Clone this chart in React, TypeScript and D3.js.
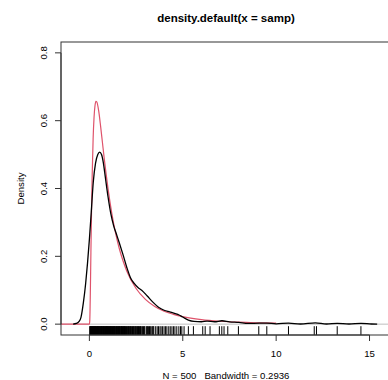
import React from "react";
import * as d3 from "d3";

// Kernel density estimate (black)
const kdeX = [-0.87, -0.7, -0.55, -0.45, -0.32, -0.2, -0.1, 0.0, 0.1, 0.21, 0.33, 0.45, 0.55, 0.65, 0.75, 0.85, 1.0, 1.15, 1.3, 1.45, 1.6, 1.8, 2.0, 2.2, 2.4, 2.6, 2.8, 3.1, 3.4, 3.7, 4.0, 4.3, 4.6, 4.8, 5.0, 5.3, 5.6, 6.0, 6.3, 6.7, 7.1, 7.5, 8.0, 8.5, 9.1, 9.5, 10.0, 10.66, 11.3, 12.1, 12.7, 13.27, 13.9, 14.54, 15.1, 15.41];
const kdeY = [0.0, 0.002, 0.008, 0.02, 0.064, 0.12, 0.18, 0.25, 0.33, 0.42, 0.475, 0.5, 0.507, 0.5, 0.475, 0.435, 0.375, 0.325, 0.29, 0.265, 0.24, 0.205, 0.168, 0.137, 0.12, 0.108, 0.1, 0.083, 0.065, 0.05, 0.041, 0.036, 0.031, 0.027, 0.021, 0.012, 0.008, 0.007, 0.009, 0.007, 0.01, 0.007, 0.005, 0.002, 0.003, 0.003, 0.001, 0.003, 0.0005, 0.004, 0.0005, 0.0025, 0.0005, 0.0025, 0.0005, 0.0];

// Reference density (red)
const refX = [-1.52, 0.0, 0.02, 0.05, 0.07, 0.1, 0.12, 0.15, 0.2, 0.25, 0.3, 0.35, 0.4, 0.5, 0.6, 0.7, 0.8, 0.9, 1.0, 1.2, 1.4, 1.6, 1.8, 2.0, 2.5, 3.0, 3.5, 4.0, 4.5, 5.0, 6.0, 7.0, 8.0, 9.0, 10.0];
const refY = [0.0, 0.0, 0.0095, 0.09, 0.166, 0.282, 0.351, 0.44, 0.546, 0.61, 0.644, 0.657, 0.655, 0.628, 0.584, 0.535, 0.486, 0.441, 0.399, 0.327, 0.269, 0.223, 0.187, 0.157, 0.105, 0.073, 0.052, 0.038, 0.029, 0.022, 0.0134, 0.0086, 0.0057, 0.004, 0.0028];

// Sample values shown as rug
const rugValues = [
  0.02, 0.04, 0.06, 0.08, 0.1, 0.11, 0.13, 0.15, 0.17, 0.19, 0.2, 0.22, 0.24, 0.26, 0.28, 0.29, 0.31, 0.33,
  0.35, 0.36, 0.38, 0.41, 0.43, 0.44, 0.46, 0.48, 0.5, 0.51, 0.53, 0.55, 0.57, 0.59, 0.61, 0.63, 0.65, 0.66,
  0.69, 0.71, 0.73, 0.74, 0.76, 0.78, 0.8, 0.82, 0.84, 0.86, 0.88, 0.9, 0.92, 0.93, 0.95, 0.97, 0.99, 1.01,
  1.03, 1.05, 1.07, 1.09, 1.11, 1.13, 1.15, 1.17, 1.19, 1.21, 1.24, 1.26, 1.28, 1.3, 1.32, 1.34, 1.36, 1.38,
  1.41, 1.43, 1.45, 1.47, 1.5, 1.52, 1.54, 1.56, 1.59, 1.61, 1.63, 1.65, 1.68, 1.7, 1.72, 1.74, 1.77, 1.79,
  1.82, 1.84, 1.86, 1.88, 1.91, 1.93, 1.96, 1.99, 2.02, 2.05, 2.08, 2.1, 2.13, 2.16, 2.19, 2.21, 2.24, 2.27,
  2.31, 2.34, 2.37, 2.39, 2.43, 2.46, 2.49, 2.51, 2.55, 2.58, 2.61, 2.63, 2.68, 2.71, 2.74, 2.76, 2.81, 2.85,
  2.9, 2.94, 2.97, 3.05, 3.09, 3.12, 3.17, 3.22, 3.26, 3.31, 3.39, 3.41, 3.45, 3.55, 3.63, 3.7, 3.78, 3.84,
  3.92, 4.0, 4.08, 4.15, 4.25, 4.33, 4.42, 4.5, 4.58, 4.68, 4.79, 4.88, 4.95, 5.07, 5.3, 5.57, 6.07, 6.2,
  6.46, 6.96, 7.09, 7.21, 7.41, 7.98, 9.07, 9.5, 10.66, 12.04, 12.16, 13.27, 14.54,
];

const xTicks = [0, 5, 10, 15];
const yTicks = [0, 0.2, 0.4, 0.6, 0.8];
const yTickLabels = ["0.0", "0.2", "0.4", "0.6", "0.8"];

const titleText = "density.default(x = samp)";
const xLabelText = "N = 500   Bandwidth = 0.2936";
const yLabelText = "Density";

export default function App() {
  const W = 388;
  const H = 380;
  const left = 61, right = 391, top = 42, bottom = 335;
  const x = d3.scaleLinear().domain([-1.52, 16.15]).range([left, right]);
  const y = d3.scaleLinear().domain([-0.032, 0.832]).range([bottom, top]);

  const kde = kdeX.map((v, i) => [v, kdeY[i]] as [number, number]);
  const ref = refX.map((v, i) => [v, refY[i]] as [number, number]);
  const line = d3
    .line<[number, number]>()
    .x((d) => x(d[0]))
    .y((d) => y(d[1]))
    .curve(d3.curveMonotoneX);

  const font = "'Liberation Sans', Arial, Helvetica, sans-serif";
  const fs = 9.6;

  return (
    <svg
      width={W}
      height={H}
      style={{ position: "absolute", left: 0, top: 0, background: "#fff" }}
      fontFamily={font}
    >
      <defs>
        <clipPath id="plotclip">
          <rect x={left} y={top} width={right - left} height={bottom - top} />
        </clipPath>
      </defs>
      <text x={226} y={22} textAnchor="middle" fontWeight="bold" fontSize={11.5}>
        {titleText}
      </text>
      <g clipPath="url(#plotclip)">
        <line x1={left} x2={right} y1={y(0)} y2={y(0)} stroke="#BEBEBE" strokeWidth={1} />
        <path d={line(ref) || ""} fill="none" stroke="#DF536B" strokeWidth={1.2} />
        <path d={line(kde) || ""} fill="none" stroke="#000" strokeWidth={1.3} />
        {rugValues.map((v, i) => (
          <line key={i} x1={x(v)} x2={x(v)} y1={bottom} y2={bottom - 8.8} stroke="#000" strokeWidth={1} />
        ))}
      </g>
      <rect x={left} y={top} width={right - left} height={bottom - top} fill="none" stroke="#333" strokeWidth={1} />
      {/* x axis */}
      <line x1={x(xTicks[0])} x2={x(xTicks[xTicks.length - 1])} y1={bottom} y2={bottom} stroke="#333" />
      {xTicks.map((t) => (
        <g key={t}>
          <line x1={x(t)} x2={x(t)} y1={bottom} y2={bottom + 6} stroke="#333" />
          <text x={x(t)} y={356.5} textAnchor="middle" fontSize={fs}>
            {t}
          </text>
        </g>
      ))}
      {/* y axis */}
      <line x1={left} x2={left} y1={y(yTicks[0])} y2={y(yTicks[yTicks.length - 1])} stroke="#333" />
      {yTicks.map((t, i) => (
        <g key={t}>
          <line x1={left} x2={left - 6} y1={y(t)} y2={y(t)} stroke="#333" />
          <text
            transform={`translate(47,${y(t)}) rotate(-90)`}
            textAnchor="middle"
            fontSize={fs}
          >
            {yTickLabels[i]}
          </text>
        </g>
      ))}
      <text x={226} y={378.5} textAnchor="middle" fontSize={fs} style={{ whiteSpace: "pre" }}>
        {xLabelText}
      </text>
      <text transform={`translate(23.5,188.5) rotate(-90)`} textAnchor="middle" fontSize={fs}>
        {yLabelText}
      </text>
    </svg>
  );
}
